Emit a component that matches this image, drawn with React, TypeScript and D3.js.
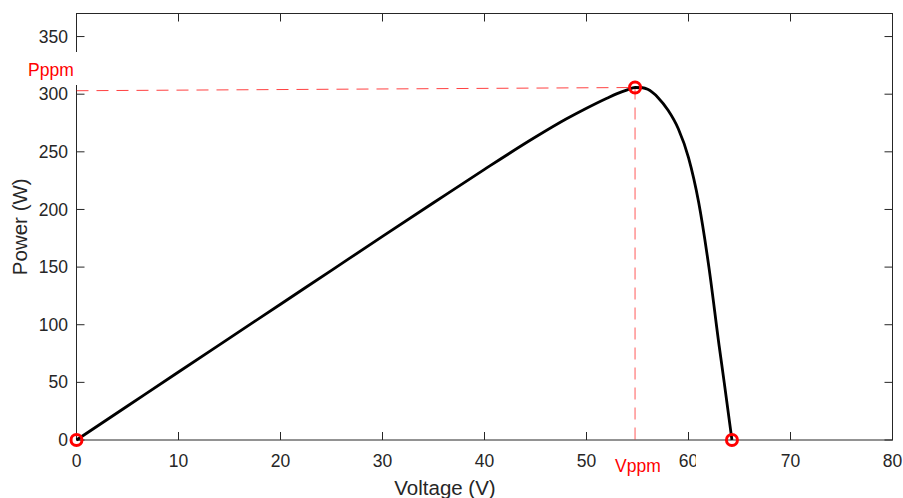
import React from 'react';
import * as d3 from 'd3';

// P-V curve
const voltage = [0, 5, 10, 15, 20, 25, 30, 35, 40, 45, 48, 50, 52, 53, 54, 54.76, 55.5, 56, 57, 58, 59, 60, 61, 62, 63, 63.5, 64, 64.26];
const power = [0, 29.5, 59, 88.4, 117.8, 147.2, 176.6, 205.8, 234.8, 262.8, 278.4, 287.8, 296.5, 300.5, 303.8, 305.8, 305.6, 304.2, 297.2, 286, 270, 245, 206, 150, 82, 50, 17, 0];

const markerV = [0, 54.76, 64.26];
const markerP = [0, 305.8, 0];

const guideH = { v: [0, 54.76], p: [303, 305.8] };
const guideV = { v: [54.76, 54.76], p: [305.8, -4.5] };

const xTicks = [0, 10, 20, 30, 40, 50, 60, 70, 80];
const yTicks = [0, 50, 100, 150, 200, 250, 300, 350];

const W = 903;
const H = 498;
const box = { left: 76.5, right: 892.5, top: 13.5, bottom: 440 };
const axisColor = '#262626';
const font = '"Liberation Sans", Arial, sans-serif';

const App = () => {
    const x = d3.scaleLinear().domain([0, 80]).range([box.left, box.right]);
    const y = d3.scaleLinear().domain([0, 370]).range([box.bottom, box.top]);

    const pts = voltage.map((v, i) => [v, power[i]] as [number, number]);
    const line = d3
        .line<[number, number]>()
        .x(d => x(d[0]))
        .y(d => y(d[1]))
        .curve(d3.curveMonotoneX);

    const tickLen = 8;

    return (
        <svg
            width={W}
            height={H}
            style={{ position: 'fixed', left: 0, top: 0, display: 'block', background: '#fff' }}
            fontFamily={font}
        >
            <rect x={0} y={0} width={W} height={H} fill="#fff" />

            {/* box */}
            <rect
                x={box.left}
                y={box.top}
                width={box.right - box.left}
                height={box.bottom - box.top}
                fill="none"
                stroke={axisColor}
                strokeWidth={1}
            />

            {/* x ticks bottom + top */}
            {xTicks.map(t => (
                <g key={'x' + t}>
                    <line x1={x(t)} x2={x(t)} y1={box.bottom} y2={box.bottom - tickLen} stroke={axisColor} />
                    <line x1={x(t)} x2={x(t)} y1={box.top} y2={box.top + tickLen} stroke={axisColor} />
                    <text x={x(t)} y={467} textAnchor="middle" fontSize={17.5} fill={axisColor}>
                        {t}
                    </text>
                </g>
            ))}
            {/* y ticks left + right */}
            {yTicks.map(t => (
                <g key={'y' + t}>
                    <line x1={box.left} x2={box.left + tickLen} y1={y(t)} y2={y(t)} stroke={axisColor} />
                    <line x1={box.right} x2={box.right - tickLen} y1={y(t)} y2={y(t)} stroke={axisColor} />
                    <text x={68} y={y(t)} dy="0.35em" textAnchor="end" fontSize={17.5} fill={axisColor}>
                        {t}
                    </text>
                </g>
            ))}
            {/* little bit of "60" hidden in the original */}
            <rect x={696} y={450} width={6} height={20} fill="#fff" />

            <text x={445} y={495} textAnchor="middle" fontSize={20.5} fill={axisColor}>
                Voltage (V)
            </text>
            <text
                transform={`translate(27, ${(box.top + box.bottom) / 2}) rotate(-90)`}
                textAnchor="middle"
                fontSize={20.5}
                fill={axisColor}
            >
                Power (W)
            </text>

            {/* dashed guides */}
            <line
                x1={x(guideH.v[0])}
                x2={x(guideH.v[1])}
                y1={y(guideH.p[0])}
                y2={y(guideH.p[1])}
                stroke="#ff0000"
                strokeOpacity={0.75}
                strokeWidth={1}
                strokeDasharray="12,8"
            />
            <line
                x1={x(guideV.v[0])}
                x2={x(guideV.v[1])}
                y1={y(guideV.p[0])}
                y2={y(guideV.p[1])}
                stroke="#ff0000"
                strokeOpacity={0.5}
                strokeWidth={1.3}
                strokeDasharray="12,8"
            />

            {/* curve */}
            <path d={line(pts) || ''} fill="none" stroke="#000" strokeWidth={2.8} />

            {/* markers */}
            {markerV.map((v, i) => (
                <circle key={'m' + i} cx={x(v)} cy={y(markerP[i])} r={5.5} fill="none" stroke="#ff0000" strokeWidth={3} />
            ))}

            {/* labels with white boxes */}
            <rect x={24} y={52} width={54} height={33} fill="#fff" />
            <text x={28} y={76} fontSize={17.5} fill="#ff0000">
                Pppm
            </text>
            <rect x={611} y={446} width={56} height={32} fill="#fff" />
            <text x={615} y={472} fontSize={17.5} fill="#ff0000">
                Vppm
            </text>
        </svg>
    );
};

export default App;
